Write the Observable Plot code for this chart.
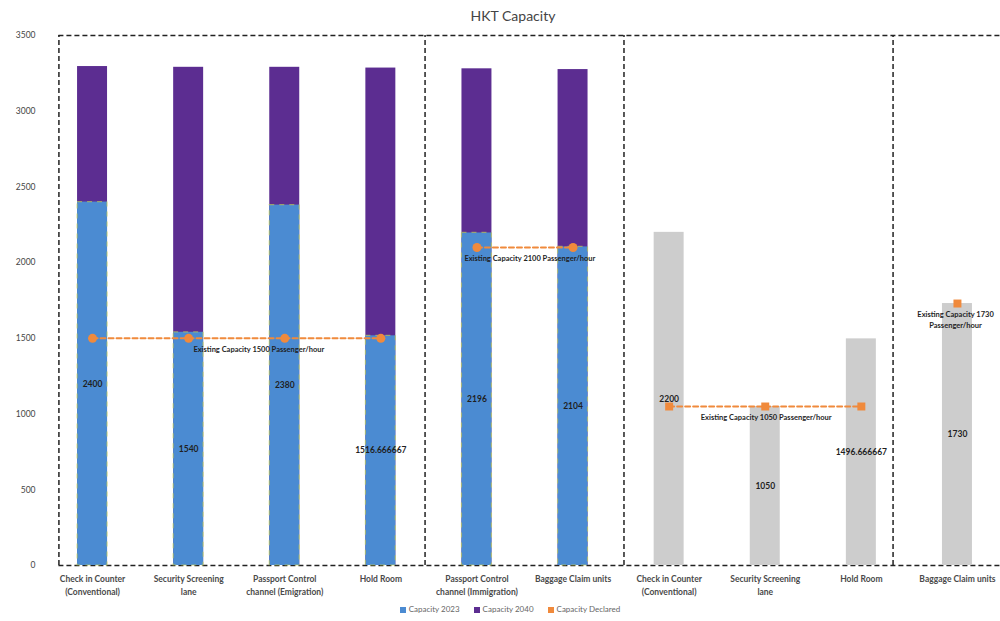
<!DOCTYPE html>
<html>
<head>
<meta charset="utf-8">
<script src="https://cdn.jsdelivr.net/npm/d3@7"></script>
<script src="https://cdn.jsdelivr.net/npm/@observablehq/plot@0.6"></script>
<style>
  html, body { margin: 0; padding: 0; background: #fff; }
  body { width: 1000px; height: 621px; position: relative; overflow: hidden; font-family: Lato, "Open Sans", sans-serif; }
  #title { position: absolute; top: 7px; left: 0; width: 1026px; text-align: center; font-size: 14px; color: #444; }
  #chart { position: absolute; top: 30px; left: 0; }
  #legend { position: absolute; top: 604px; left: 0; width: 1020px; display: flex; justify-content: center; gap: 14px; font-size: 8px; color: #666; }
  #legend span.sw { display: inline-block; width: 6px; height: 6px; margin-right: 3px; vertical-align: -0.5px; }
</style>
</head>
<body>
<div id="title">HKT Capacity</div>
<div id="chart"></div>
<div id="legend"></div>
<script>
// ---- data ----
const categories = [
  "Check in Counter\n(Conventional)",
  "Security Screening\nlane",
  "Passport Control\nchannel (Emigration)",
  "Hold Room",
  "Passport Control\nchannel (Immigration)",
  "Baggage Claim units",
  "Check in Counter\n(Conventional)",
  "Security Screening\nlane",
  "Hold Room",
  "Baggage Claim units"
];
const capacity2023 = [2400, 1540, 2380, 1516.666667, 2196, 2104];   // categories 0-5
const capacity2040 = [3295, 3290, 3290, 3285, 3280, 3275];          // categories 0-5
const existingCapacity = [2200, 1050, 1496.666667, 1730];           // categories 6-9 (grey)
const capacityDeclared = [1500, 1500, 1500, 1500, 2100, 2100, 1050, 1050, 1050, 1730];
const sectionOf = [0, 0, 0, 0, 1, 1, 2, 2, 2, 3];
const sectionNotes = [
  "Existing Capacity 1500 Passenger/hour",
  "Existing Capacity 2100 Passenger/hour",
  "Existing Capacity 1050 Passenger/hour",
  "Existing Capacity 1730\nPassenger/hour"
];
const sectionBounds = [-0.35, 3.46, 5.53, 8.33, 9.6];
const yTicks = [0, 500, 1000, 1500, 2000, 2500, 3000, 3500];

const seriesNames = ["Capacity 2023", "Capacity 2040", "Capacity Declared"];
const seriesColors = ["#4b8bd2", "#5c2d91", "#f08a3c"];
const grey = "#cdcdcd";

// ---- derived tables ----
const half = 0.156;
const blueRows = capacity2023.map((v, i) => ({i, v}));
const purpleRows = capacity2040.map((v, i) => ({i, v}));
const greyRows = existingCapacity.map((v, k) => ({i: k + 6, v}));
const declRows = capacityDeclared.map((v, i) => ({i, v, s: sectionOf[i]}));
const noteRows = sectionNotes.map((t, s) => {
  const idx = declRows.filter(d => d.s === s);
  return {s, t, x: d3.mean(idx, d => d.i), y: idx[0].v};
});
const noteShift = [0.23, 0.05, 0.01, -0.02];

const plot = Plot.plot({
  width: 1000,
  height: 570,
  marginTop: 5,
  marginBottom: 35,
  marginLeft: 36,
  marginRight: 0,
  x: {type: "linear", domain: [-0.5, 9.5], range: [44, 1005]},
  y: {domain: [0, 3500], range: [535, 5]},
  style: {fontFamily: "Lato, 'Open Sans', sans-serif", background: "white"},
  marks: [
    // section boxes
    Plot.ruleY([0, 3500], {x1: sectionBounds[0], x2: sectionBounds[sectionBounds.length - 1], stroke: "#222", strokeWidth: 1.5, strokeDasharray: "5,3"}),
    Plot.ruleX(sectionBounds, {y1: 0, y2: 3500, stroke: "#222", strokeWidth: 1.5, strokeDasharray: "5,3"}),
    // bars
    Plot.rectY(purpleRows, {x1: d => d.i - half, x2: d => d.i + half, y: "v", fill: seriesColors[1]}),
    Plot.rectY(blueRows, {x1: d => d.i - half, x2: d => d.i + half, y: "v", fill: seriesColors[0], stroke: "#c9d24a", strokeOpacity: 0.6, strokeWidth: 1.2, strokeDasharray: "5,5"}),
    Plot.rectY(greyRows, {x1: d => d.i - half, x2: d => d.i + half, y: "v", fill: grey}),
    // bar value labels
    Plot.text(blueRows, {x: "i", y: d => d.v / 2, text: d => String(d.v), fontSize: 8.5, fontWeight: "bold", fill: "#1f1f1f"}),
    Plot.text(greyRows, {x: "i", y: d => d.v / 2, text: d => String(d.v), fontSize: 8.5, fontWeight: "bold", fill: "#1f1f1f"}),
    // declared capacity
    Plot.line(declRows, {x: "i", y: "v", z: "s", stroke: seriesColors[2], strokeWidth: 2, strokeDasharray: "5,3"}),
    Plot.dot(declRows.filter(d => d.s < 2), {x: "i", y: "v", r: 4.5, fill: seriesColors[2]}),
    Plot.dot(declRows.filter(d => d.s >= 2), {x: "i", y: "v", symbol: "square", r: 4.5, fill: seriesColors[2]}),
    Plot.text(noteRows, {x: d => d.x + noteShift[d.s], y: "y", text: "t", dy: 5, lineAnchor: "top", lineHeight: 1.55, fontSize: 7.5, fontWeight: "bold", fill: "#1f1f1f"}),
    // axes
    Plot.axisY({ticks: yTicks, tickFormat: d => String(d), tickSize: 0, tickPadding: 1, fontSize: 8.5, fill: "#444", label: null}),
    Plot.axisX({ticks: d3.range(categories.length), tickFormat: i => categories[i], tickSize: 0, tickPadding: 8, lineHeight: 1.45, fontSize: 8.5, fontWeight: "bold", fill: "#4a4a4a", label: null})
  ]
});
document.getElementById("chart").appendChild(plot);

const legend = document.getElementById("legend");
seriesNames.forEach((n, k) => {
  const item = document.createElement("div");
  item.innerHTML = `<span class="sw" style="background:${seriesColors[k]}"></span>${n}`;
  legend.appendChild(item);
});
</script>
</body>
</html>
